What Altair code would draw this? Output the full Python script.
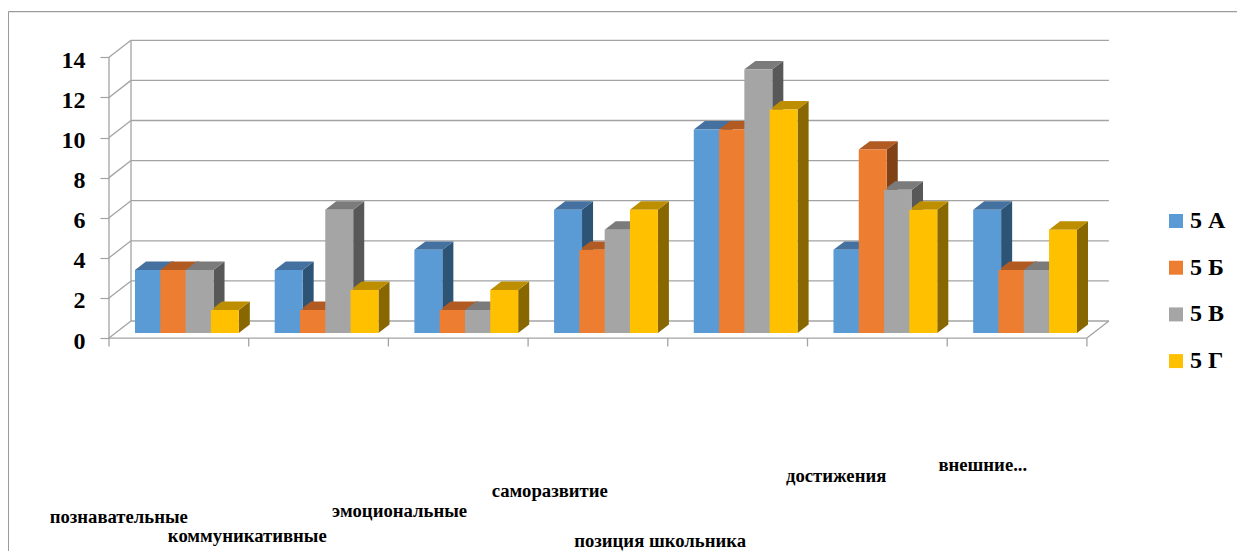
import altair as alt
import pandas as pd

categories = ["познавательные", "коммуникативные", "эмоциональные", "саморазвитие",
              "позиция школьника", "достижения", "внешние..."]
series = ["5 А", "5 Б", "5 В", "5 Г"]
values_a = [3, 3, 4, 6, 10, 4, 6]
values_b = [3, 1, 1, 4, 10, 9, 3]
values_c = [3, 6, 1, 5, 13, 7, 3]
values_d = [1, 2, 2, 6, 11, 6, 5]
y_ticks = [0, 2, 4, 6, 8, 10, 12, 14]

front_colors = ["#5B9BD5", "#ED7D31", "#A5A5A5", "#FFC000"]
side_colors = ["#2E5475", "#7F4115", "#585858", "#896700"]
top_colors = ["#44719F", "#B15B22", "#7B7B7B", "#BC8E00"]
grid_color = "#A3A3A3"
text_font = "Liberation Serif"

# label anchor per category, in axis units (the reference staggers them)
label_x = [0.07, 0.99, 2.08, 3.155, 3.945, 5.205, 6.255]
label_y = [-9.3, -10.25, -9.05, -8.05, -10.5, -7.3, -6.75]

# pseudo-3D geometry in axis units
bar_start, bar_step, bar_w, side_dx, side_dy, bar_base = 0.186, 0.181, 0.2, 0.079, 0.42, -0.15
wall_dx, front_shift, back_shift = 0.1575, -0.4, 0.45
x_domain = [-0.723, 8.0745]
y_domain = [-11.02, 16.06]
border_x, border_y = -0.72, 15.88

all_values = [values_a, values_b, values_c, values_d]
fronts, sides, tops = [], [], []
for c in range(len(categories)):
    for s, name in enumerate(series):
        v = all_values[s][c]
        xl = c + bar_start + s * bar_step
        xr = xl + bar_w
        bar = f"{c}-{s}"
        fronts.append(dict(series=name, x=xl, x2=xr, y=bar_base, y2=v, category=categories[c]))
        for x, y, y2 in [(xr, bar_base, v), (xr + side_dx, bar_base + side_dy, v + side_dy)]:
            sides.append(dict(bar=bar, color=side_colors[s], x=x, y=y, y2=y2))
        for x, y, y2 in [(xl, v, v), (xl + side_dx, v, v + side_dy), (xr, v, v + side_dy),
                         (xr + side_dx, v + side_dy, v + side_dy)]:
            tops.append(dict(bar=bar, color=top_colors[s], x=x, y=y, y2=y2))

n = len(categories)
wall = []
for t in y_ticks:
    wall.append(dict(x=wall_dx, x2=n + wall_dx, y=t + back_shift, y2=t + back_shift))
    wall.append(dict(x=0, x2=wall_dx, y=t + front_shift, y2=t + back_shift))
wall.append(dict(x=wall_dx, x2=wall_dx, y=back_shift, y2=y_ticks[-1] + back_shift))
wall.append(dict(x=0, x2=0, y=front_shift, y2=y_ticks[-1] + front_shift))
wall.append(dict(x=0, x2=n, y=front_shift, y2=front_shift))
wall.append(dict(x=n, x2=n + wall_dx, y=front_shift, y2=back_shift))
for c in range(n + 1):
    wall.append(dict(x=c, x2=c, y=front_shift, y2=front_shift - 0.42))

border = [dict(x=border_x, x2=x_domain[1], y=border_y, y2=border_y),
          dict(x=border_x, x2=border_x, y=border_y, y2=y_domain[0])]

X = alt.X("x:Q", scale=alt.Scale(domain=x_domain, nice=False, zero=False), axis=None)
Y_axis = alt.Y(
    "y:Q",
    scale=alt.Scale(domain=y_domain, nice=False, zero=False),
    axis=alt.Axis(
        values=[t + front_shift for t in y_ticks],
        labelExpr=f"format(datum.value - ({front_shift}), 'd')",
        title=None, domain=False, grid=False,
        offset=-101, tickSize=9, tickColor=grid_color, tickWidth=1.2,
        labelFont=text_font, labelFontWeight="bold", labelFontSize=24, labelColor="#000000",
        labelPadding=15, labelOffset=3,
    ),
)

border_layer = alt.Chart(pd.DataFrame(border)).mark_rule(color="#9C9C9C", strokeWidth=1.2).encode(
    x=X, x2="x2:Q", y=Y_axis, y2="y2:Q")
wall_layer = alt.Chart(pd.DataFrame(wall)).mark_rule(color=grid_color, strokeWidth=1.3).encode(
    x=X, x2="x2:Q", y=Y_axis, y2="y2:Q")
side_layer = alt.Chart(pd.DataFrame(sides)).mark_area(interpolate="linear", opacity=1).encode(
    x=X, y=Y_axis, y2="y2:Q", detail="bar:N", color=alt.Color("color:N", scale=None, legend=None))
top_layer = alt.Chart(pd.DataFrame(tops)).mark_area(interpolate="linear", opacity=1).encode(
    x=X, y=Y_axis, y2="y2:Q", detail="bar:N", color=alt.Color("color:N", scale=None, legend=None))
front_layer = alt.Chart(pd.DataFrame(fronts)).mark_rect(opacity=1).encode(
    x=X, x2="x2:Q", y=Y_axis, y2="y2:Q",
    color=alt.Color(
        "series:N",
        scale=alt.Scale(domain=series, range=front_colors),
        sort=series,
        legend=alt.Legend(
            title=None, orient="none", legendX=1156, legendY=201,
            symbolType="square", symbolSize=196, symbolStrokeWidth=0, symbolOpacity=1,
            labelFont=text_font, labelFontWeight="bold", labelFontSize=24, labelColor="#000000",
            labelLimit=100, rowPadding=22.7, labelOffset=2,
        ),
    ),
)
label_layer = alt.Chart(pd.DataFrame({"label": categories, "x": label_x, "y": label_y})).mark_text(
    font=text_font, fontWeight="bold", fontSize=18.7, color="#000000", align="center", baseline="middle"
).encode(x=X, y=Y_axis, text="label:N")

chart = alt.layer(border_layer, wall_layer, side_layer, top_layer, front_layer, label_layer).resolve_scale(
    color="independent"
).properties(
    width=1229, height=543, padding=0, autosize=alt.AutoSizeParams(type="none"),
    background="#FFFFFF"
).configure_view(stroke=None)

chart.save("out.html", embed_options={"renderer": "svg", "actions": False})
